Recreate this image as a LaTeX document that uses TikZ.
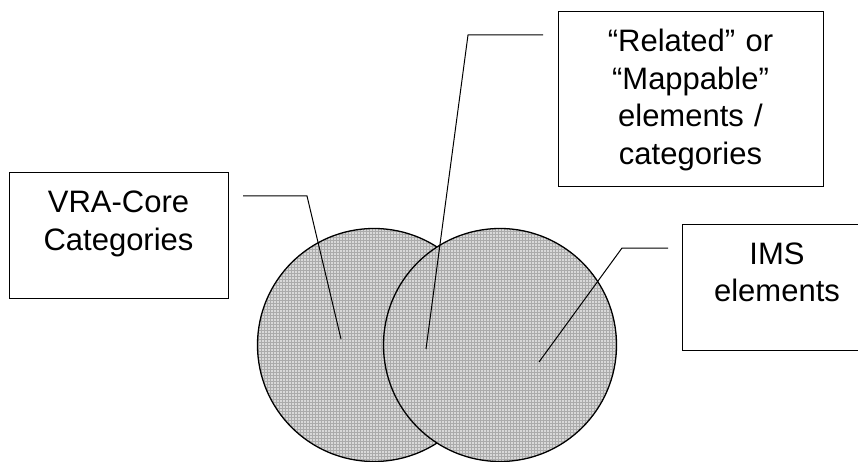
\documentclass[tikz,border=0pt]{standalone}
\usepackage{fontspec}
\setmainfont{Liberation Sans}
\usetikzlibrary{patterns}

\begin{document}
\begin{tikzpicture}[x=1pt,y=-1pt,font=\fontsize{31}{37.5}\selectfont,
  box/.style={draw,line width=1pt,anchor=north west,align=center,inner sep=0pt,outer sep=0pt,text height=40pt},
  set/.style={circle,draw,line width=1.3pt,minimum size=233pt,inner sep=0pt,outer sep=0pt,preaction={fill=black!15},pattern=grid,pattern color=black!33},
  callout/.style={line width=1pt}]
\useasboundingbox (0,0) rectangle (858,462);
% the two sets
\node[set] (vraSet) at (374,345) {};
\node[set] (imsSet) at (500,345) {};
% labels
\node[box,text width=219pt,text depth=85pt] (vra) at (9,173) {VRA-Core\\Categories};
\node[box,text width=265pt,text depth=135pt] (rel) at (558,12) {“Related” or\\“Mappable”\\elements /\\categories};
\node[box,text width=190pt,text depth=86pt] (ims) at (682,224) {IMS\\elements};
\coordinate (vraIn) at (341,339);
\coordinate (relIn) at (426,349);
\coordinate (imsIn) at (539,362);
% callouts
\draw[callout] ([xshift=15pt,yshift=-23pt]vra.north east) -- ++(64,0) -- (vraIn);
\draw[callout] ([xshift=-15pt,yshift=-23pt]rel.north west) -- ++(-75,0) -- (relIn);
\draw[callout] ([xshift=-14pt,yshift=-24pt]ims.north west) -- ++(-46,0) -- (imsIn);
\end{tikzpicture}
\end{document}
